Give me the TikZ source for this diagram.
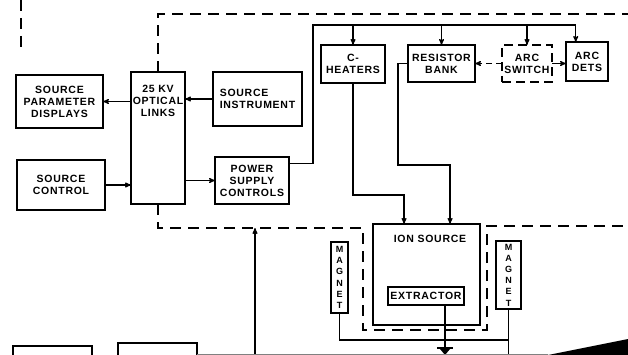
\documentclass[tikz,border=0pt]{standalone}
\usepackage{fontspec}
\setmainfont{Liberation Sans}[LetterSpace=7]
\usepackage{tikz}
\usetikzlibrary{arrows,positioning,calc}
\tikzset{box/.style={draw, align=center, inner sep=2pt, outer sep=0pt, font=\fontsize{10.5}{12}\selectfont\bfseries, line width=1.1pt}}
\tikzset{arr/.style={->, >=stealth', line width=1.1pt}}
\tikzset{darr/.style={->, >=stealth', line width=1.1pt, dash pattern=on 6pt off 4pt}}
\tikzset{wire/.style={line width=1.1pt}}
\tikzset{bnd/.style={line width=1.1pt, dash pattern=on 11pt off 7pt}}
\tikzset{invis/.style={draw=none, fill=none, align=center, font=\fontsize{10.5}{12}\selectfont\bfseries}}

\begin{document}
\begin{tikzpicture}[x=1pt, y=-1pt]
        \useasboundingbox (0,0) rectangle (628,355);
        \tikzset{mag/.style={box, inner sep=1pt, font=\fontsize{9}{11.2}\selectfont\bfseries}}

        %%% CONTROL ROOM %%%
        \node[box, minimum width=87pt, minimum height=53pt] (disp) at (59.5,101.5) {SOURCE\\PARAMETER\\DISPLAYS};
        \node[box, minimum width=88pt, minimum height=50pt] (ctrl) at (61,185) {SOURCE\\CONTROL};
        \node[box, minimum width=54pt, minimum height=132pt] (optl) at (158,138) {};
        \node[invis] (optltxt) at (158,101) {25 KV\\OPTICAL\\LINKS};
        \node[box, align=left, minimum width=89pt, minimum height=54pt] (inst) at (257.5,99) {SOURCE\\INSTRUMENT};
        \node[box, minimum width=74pt, minimum height=47pt] (psc) at (252,180.5) {POWER\\SUPPLY\\CONTROLS};

        %%% HIGH VOLTAGE DECK %%%
        \node[box, minimum width=64pt, minimum height=38pt] (heat) at (353,64) {C-\\HEATERS};
        \node[box, minimum width=67pt, minimum height=37pt] (rbank) at (441.5,63.5) {RESISTOR\\BANK};
        \node[box, dash pattern=on 9pt off 5pt, minimum width=50pt, minimum height=37pt] (asw) at (527,63.5) {ARC\\SWITCH};
        \node[box, minimum width=42pt, minimum height=39pt] (adet) at (587,61.5) {ARC\\DETS};

        %%% SOURCE %%%
        \node[box, minimum width=107pt, minimum height=101pt] (ion) at (426.5,274.5) {};
        \node[invis] (iontxt) at (430,239) {ION SOURCE};
        \node[box, minimum width=76pt, minimum height=18pt] (extr) at (426,296) {EXTRACTOR};
        \node[mag, minimum width=17pt, minimum height=71pt] (magL) at (339.5,277.5) {M\\A\\G\\N\\E\\T};
        \node[mag, minimum width=25pt, minimum height=68pt] (magR) at (508.5,275) {M\\A\\G\\N\\E\\T};

        %%% BOTTOM (cut off) %%%
        \node[box, minimum width=79pt, minimum height=28pt] (bx1) at (52.5,360) {};
        \node[box, minimum width=79pt, minimum height=30pt] (bx2) at (157.5,358) {};

        \coordinate (bus) at (313,25);
        \coordinate (inA) at ($(ion.north)!0.42!(ion.north west)$);
        \coordinate (inB) at ($(ion.north)!0.44!(ion.north east)$);
        \coordinate (exA) at ($(extr.south)!0.5!(extr.south east)$);
        \coordinate (topR) at (628,14);
        \coordinate (lftT) at (21,0);
        \coordinate (lftB) at (21,52);
        \coordinate (encL) at (363,228);
        \coordinate (encB) at (487,330);
        \coordinate (encR) at (628,226);
        \coordinate (feedB) at (255,355);
        \coordinate (botL) at (197,354);
        \coordinate (botR) at (548,354);

        %%% ARROWS %%%
        \draw[arr] (inst.west) -- (inst.west -| optl.east);
        \draw[arr] (optl.west |- disp) -- (disp.east);
        \draw[arr] (ctrl.east) -- (ctrl.east -| optl.west);
        \draw[arr] (optl.east |- psc) -- (psc.west);
        \draw[arr] (psc.25) -| (bus) -| (adet.120);
        \draw[arr] (heat.north |- bus) -- (heat.north);
        \draw[arr] (rbank.north |- bus) -- (rbank.north);
        \draw[arr] (asw.north |- bus) -- (asw.north);
        \draw[darr] (asw.west) -- (rbank.east);
        \draw[arr] (asw.east) -- (asw.east -| adet.west);
        \draw[arr] (heat.south) -- ++(0,112) -| (inA);
        \draw[arr] (rbank.west) -- ++(-10,0) -- ++(0,101.5) -| (inB);
        \draw[arr] (feedB) -- (feedB |- encL);

        %%% MAGNETS + GROUND %%%
        \draw[wire] (magL.south) -- ++(0,27) -| (magR.south);
        \draw[wire] (magR.south) -- ++(0,46);
        \draw[wire] (exA) -- ++(0,43) coordinate (gnd);
        \fill (exA |- ion.south) circle (1.8);
        \draw[wire] ($(gnd)+(-8,0)$) -- ($(gnd)+(8,0)$);
        \fill ($(gnd)+(-5,1)$) -- ($(gnd)+(5,1)$) -- ($(gnd)+(0,7)$) -- cycle;

        %%% BOUNDARIES %%%
        \draw[bnd] (lftT) -- (lftB);
        \draw[bnd] (optl.north) |- (topR);
        \draw[bnd] (optl.south) |- (encL) |- (encB) |- (encR);
        \draw[line width=0.5pt, gray] (botL) -- (botR);
        \fill (botR) ++(0,1) -- (628,339) -- (628,355) -- cycle;
    \end{tikzpicture}
\end{document}
